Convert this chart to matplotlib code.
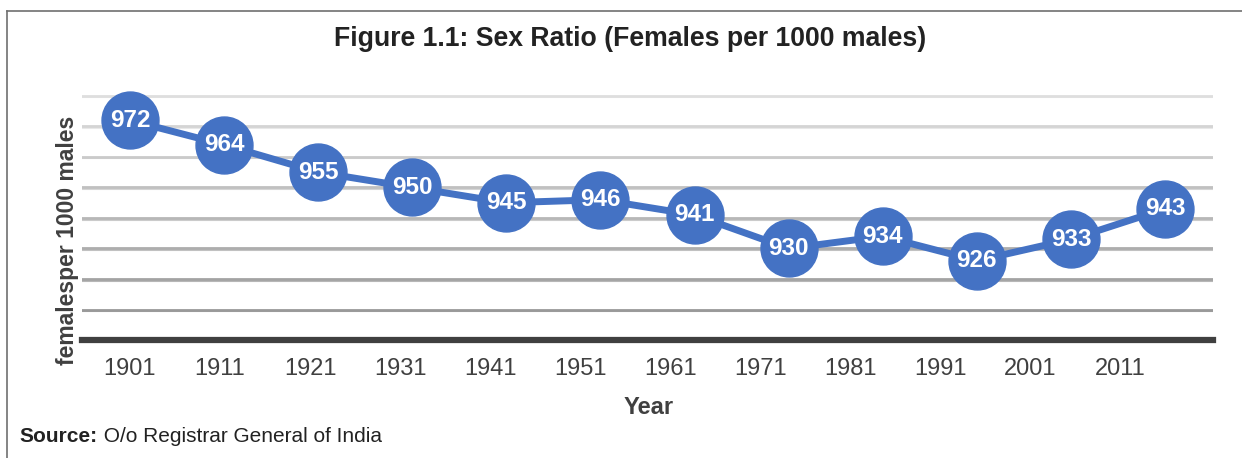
import numpy as np
import matplotlib.pyplot as plt
from matplotlib.lines import Line2D

years = ['1901', '1911', '1921', '1931', '1941', '1951',
         '1961', '1971', '1981', '1991', '2001', '2011']
sex_ratio = [972, 964, 955, 950, 945, 946, 941, 930, 934, 926, 933, 943]
grid_levels = [910, 920, 930, 940, 950, 960, 970, 980]

plt.rcParams['font.family'] = ['Liberation Sans', 'DejaVu Sans']

fig = plt.figure(figsize=(12.42, 4.58), dpi=100)
ax = fig.add_axes([0.066, 0.2576, 0.9107, 0.5662])

x = np.arange(len(years))
ax.set_xlim(-0.51, len(years) - 0.49)
ax.set_ylim(900, 985)

# grid lines get darker toward the bottom
greys = np.linspace(0.87, 0.6, len(grid_levels))[::-1]
for lvl, g in zip(grid_levels, greys):
    ax.axhline(lvl, color=(g, g, g), lw=2.0, zorder=1)
    ax.axhline(lvl - 0.5, color=(g + 0.08, g + 0.08, g + 0.08), lw=1.5, zorder=0.9)
ax.axhline(900, color='#404040', lw=4.5, zorder=2, clip_on=False)

ax.plot(x, sex_ratio, color='#4472C4', lw=5, marker='o', markersize=41,
        markerfacecolor='#4472C4', markeredgecolor='#4472C4', zorder=3, clip_on=False)
for xi, v in zip(x, sex_ratio):
    ax.text(xi, v, str(v), color='white', fontsize=17.5, fontweight='bold',
            ha='center', va='center', zorder=4)

# tick labels in the original sit a bit left of the points
ax.set_xticks(x * 0.957)
ax.set_xticklabels(years, fontsize=17, color='#404040')
ax.tick_params(axis='x', length=0, pad=13)
ax.set_yticks([])
for s in ax.spines.values():
    s.set_visible(False)

ax.set_xlabel('Year', fontsize=17, fontweight='bold', color='#404040')
ax.xaxis.set_label_coords(0.501, -0.215)
ax.set_ylabel('femalesper 1000 males', fontsize=16.5, fontweight='bold', color='#404040')
ax.yaxis.set_label_coords(-0.003, 0.385)

fig.text(0.507, 0.915, 'Figure 1.1: Sex Ratio (Females per 1000 males)',
         ha='center', va='center', fontsize=19.2, fontweight='bold', color='#222222')
src = fig.text(0.016, 0.047, 'Source:', ha='left', va='center', fontsize=15,
               fontweight='bold', color='#222222')
fig.texts.append(plt.Annotation(' O/o Registrar General of India', xy=(1, 0.5),
                                xycoords=src, va='center', ha='left',
                                fontsize=15, color='#222222'))
fig.texts[-1].set_figure(fig)

# frame around the figure (left and top edges only)
fig.add_artist(Line2D([0.006, 0.006], [0.0, 0.977], color='#707070', lw=1.2))
fig.add_artist(Line2D([0.006, 1.0], [0.977, 0.977], color='#707070', lw=1.2))

fig.savefig('out.png', dpi=100)
